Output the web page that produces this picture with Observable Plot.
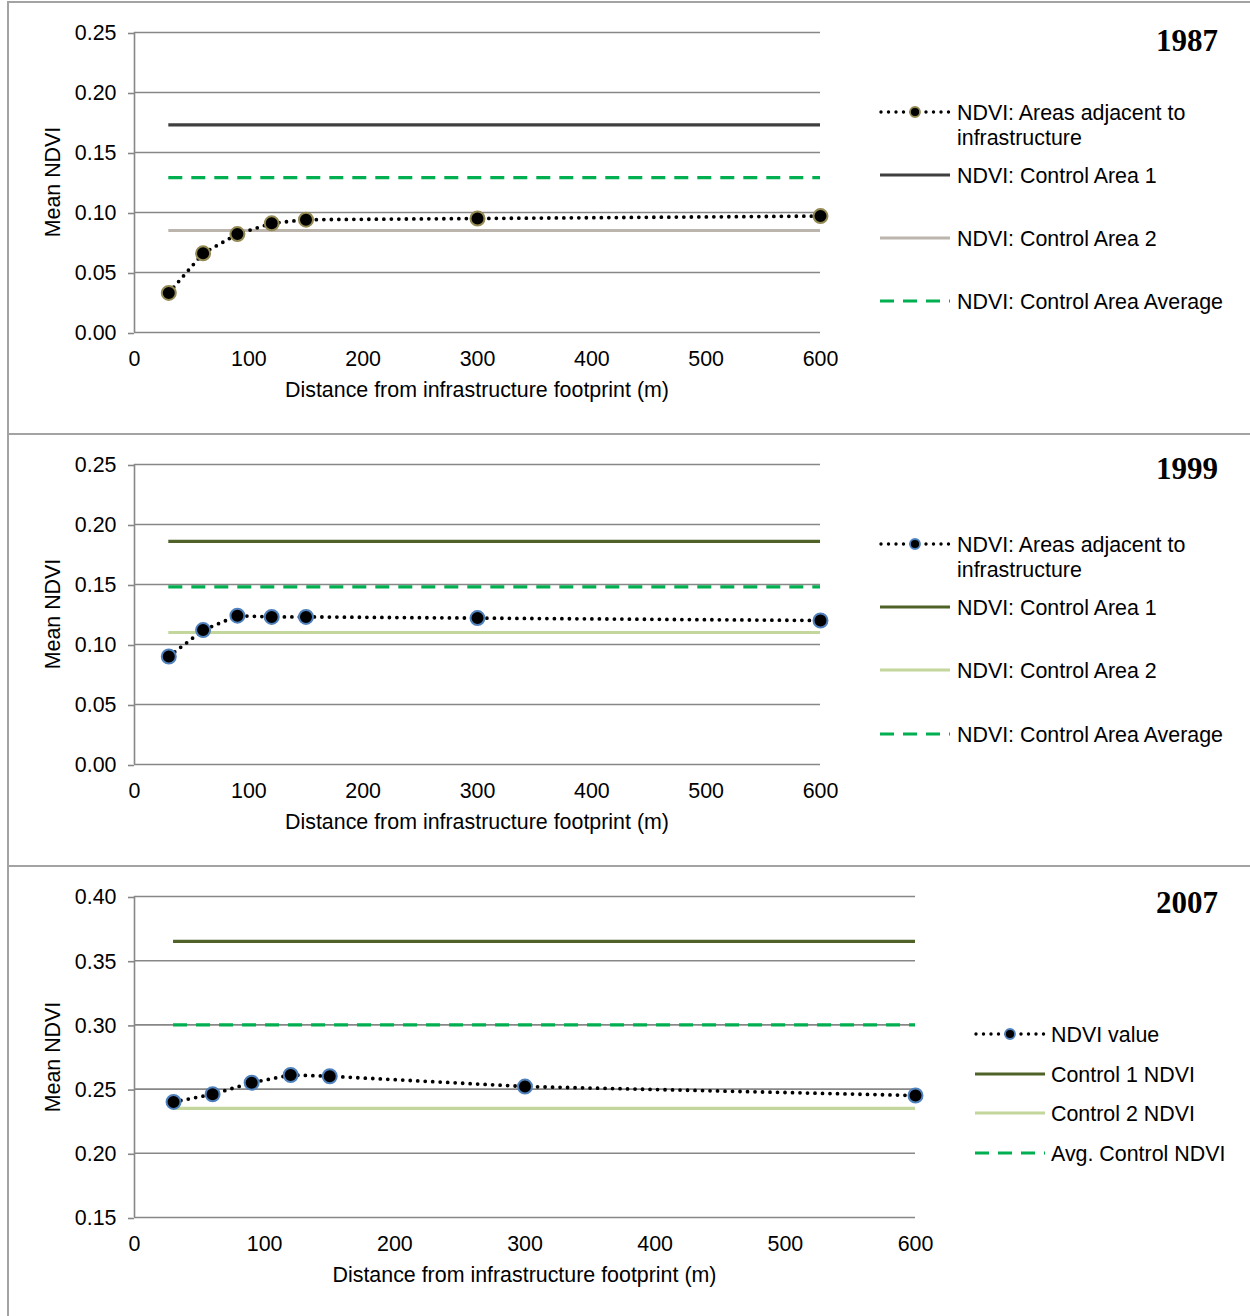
<!DOCTYPE html>
<html>
<head>
<meta charset="utf-8">
<script src="https://cdn.jsdelivr.net/npm/d3@7"></script>
<script src="https://cdn.jsdelivr.net/npm/@observablehq/plot@0.6"></script>
<style>
  body { margin: 0; background: #fff; }
  #root { position: relative; width: 1250px; height: 1316px; overflow: hidden; font-family: "Liberation Sans", Arial, sans-serif; color: #000; }
  .abs { position: absolute; }
  .t { position: absolute; font-size: 21.4px; line-height: 1; white-space: nowrap; }
  .title { position: absolute; font-family: "Liberation Serif", "Times New Roman", serif; font-weight: bold; font-size: 31px; line-height: 1; transform: translateY(-50%); }
  .hline { position: absolute; height: 0; border-top: 2px solid #a3a3a3; }
  .vline { position: absolute; width: 0; border-left: 2px solid #a3a3a3; }
</style>
</head>
<body>
<div id="root"></div>
<script>
// ---------- data ----------
const distances = [30, 60, 90, 120, 150, 300, 600];
const xTicks = [0, 100, 200, 300, 400, 500, 600];

const ndvi1987 = [0.033, 0.066, 0.082, 0.091, 0.094, 0.095, 0.097];
const ndvi1999 = [0.090, 0.112, 0.124, 0.123, 0.123, 0.122, 0.120];
const ndvi2007 = [0.240, 0.246, 0.255, 0.261, 0.260, 0.252, 0.245];

const control1 = [0.173, 0.186, 0.365];   // 1987, 1999, 2007
const control2 = [0.085, 0.110, 0.235];
const controlAvg = [0.129, 0.148, 0.300];

const yTicksA = [0, 0.05, 0.10, 0.15, 0.20, 0.25];
const yTicksC = [0.15, 0.20, 0.25, 0.30, 0.35, 0.40];

const years = ["1987", "1999", "2007"];
const legendA = ["NDVI: Areas adjacent to\ninfrastructure", "NDVI: Control Area 1", "NDVI: Control Area 2", "NDVI: Control Area Average"];
const legendC = ["NDVI value", "Control 1 NDVI", "Control 2 NDVI", "Avg. Control NDVI"];

const xLabel = "Distance from infrastructure footprint (m)";
const yLabel = "Mean NDVI";

// ---------- styles ----------
const grid = "#878787";
const avgColor = "#00b050";
const styles = [
  {marker: "#948a54", c1: "#3f3f3f", c2: "#bcb5ad"},
  {marker: "#4f81bd", c1: "#4f6228", c2: "#c3d69b"},
  {marker: "#4f81bd", c1: "#4f6228", c2: "#c3d69b"}
];
const dashAvg = "14,9";
const dotDash = "0,7.5";
const textShift = 1.5;

const root = document.getElementById("root");

function el(tag, cls, css, html) {
  const e = document.createElement(tag);
  if (cls) e.className = cls;
  Object.assign(e.style, css || {});
  if (html != null) e.innerHTML = html;
  root.appendChild(e);
  return e;
}

// borders
el("div", "hline", {left: "8px", top: "1px", width: "1242px"});
el("div", "vline", {left: "7px", top: "1px", height: "1315px"});
el("div", "hline", {left: "8px", top: "433px", width: "1242px"});
el("div", "hline", {left: "8px", top: "865px", width: "1242px"});

function makePlot(i, vals, yTicks, opts) {
  const data = distances.map((d, k) => ({d, v: vals[k]}));
  const st = styles[i];
  const p = Plot.plot({
    width: opts.width, height: opts.height,
    marginLeft: 134, marginRight: opts.width - opts.xRight,
    marginTop: opts.marginTop, marginBottom: opts.marginBottom,
    x: {domain: [0, 600]},
    y: {domain: [yTicks[0], yTicks[yTicks.length - 1]]},
    style: {fontFamily: '"Liberation Sans", Arial, sans-serif', fontSize: "21.4px", color: "#000", background: "transparent", overflow: "visible"},
    marks: [
      Plot.gridY(yTicks, {stroke: grid, strokeOpacity: 1, strokeWidth: 1.6}),
      Plot.ruleX([0], {stroke: grid, strokeWidth: 1.6}),
      Plot.axisY(yTicks, {tickFormat: d3.format(".2f"), tickSize: 6, tickPadding: 12, stroke: grid, strokeWidth: 1.6, label: null, fill: "#000", dy: 1}),
      Plot.axisX(xTicks, {tickSize: 0, tickPadding: 18, label: null, fill: "#000"}),
      Plot.ruleY([control2[i]], {x1: distances[0], x2: distances[distances.length - 1], stroke: st.c2, strokeWidth: 3.2}),
      Plot.ruleY([control1[i]], {x1: distances[0], x2: distances[distances.length - 1], stroke: st.c1, strokeWidth: 3.2}),
      Plot.ruleY([controlAvg[i]], {x1: distances[0], x2: distances[distances.length - 1], stroke: avgColor, strokeWidth: 3.2, strokeDasharray: dashAvg}),
      Plot.line(data, {x: "d", y: "v", stroke: "#000", strokeWidth: 3.8, strokeDasharray: dotDash, strokeLinecap: "round"}),
      Plot.dot(data, {x: "d", y: "v", r: 7, fill: "#000", stroke: st.marker, strokeWidth: 2})
    ]
  });
  p.style.position = "absolute";
  p.style.left = "0px";
  p.style.top = opts.top + "px";
  root.appendChild(p);

  const plotTop = opts.top + opts.marginTop;
  const plotBottom = opts.top + opts.height - opts.marginBottom;
  // axis titles
  el("div", "t", {left: "54px", top: ((plotTop + plotBottom) / 2) + "px", transform: "translate(-50%,-50%) rotate(-90deg)"}, yLabel);
  el("div", "t", {left: ((134 + opts.xRight) / 2) + "px", top: (plotBottom + 57 + textShift) + "px", transform: "translate(-50%,-50%)"}, xLabel);
  // year title
  el("div", "title", {right: "32px", top: opts.titleY + "px"}, years[i]);
}

function sample(kind, st) {
  const w = 72, h = 20, y = 10;
  let inner;
  if (kind === 0) {
    inner = `<line x1="2" x2="70" y1="${y}" y2="${y}" stroke="#000" stroke-width="3.4" stroke-dasharray="${dotDash}" stroke-linecap="round"/>` +
            `<circle cx="36" cy="${y}" r="5" fill="#000" stroke="${st.marker}" stroke-width="1.8"/>`;
  } else if (kind === 1) {
    inner = `<line x1="1" x2="71" y1="${y}" y2="${y}" stroke="${st.c1}" stroke-width="3.2"/>`;
  } else if (kind === 2) {
    inner = `<line x1="1" x2="71" y1="${y}" y2="${y}" stroke="${st.c2}" stroke-width="3.2"/>`;
  } else {
    inner = `<line x1="1" x2="71" y1="${y}" y2="${y}" stroke="${avgColor}" stroke-width="3.2" stroke-dasharray="${dashAvg}"/>`;
  }
  return `<svg width="${w}" height="${h}" style="display:block">${inner}</svg>`;
}

function legend(i, labels, rows, sx, tx) {
  const st = styles[i];
  labels.forEach((lab, k) => {
    const yc = rows[k];
    el("div", "abs", {left: sx + "px", top: (yc - 10) + "px"}, sample(k, st));
    const parts = lab.split("\n");
    if (parts.length > 1) {
      el("div", "t", {left: tx + "px", top: (yc - 12.5 + textShift) + "px", lineHeight: "25px"}, parts.join("<br>"));
    } else {
      el("div", "t", {left: tx + "px", top: (yc + textShift) + "px", transform: "translateY(-50%)"}, lab);
    }
  });
}

makePlot(0, ndvi1987, yTicksA, {top: 0, width: 860, height: 434, xRight: 820, marginTop: 32, marginBottom: 102, titleY: 40});
makePlot(1, ndvi1999, yTicksA, {top: 434, width: 860, height: 432, xRight: 820, marginTop: 30, marginBottom: 102, titleY: 468});
makePlot(2, ndvi2007, yTicksC, {top: 866, width: 960, height: 450, xRight: 915, marginTop: 30, marginBottom: 99, titleY: 902});

legend(0, legendA, [112, 175, 238, 301], 879, 957);
legend(1, legendA, [544, 607, 670, 734], 879, 957);
legend(2, legendC, [1034, 1074, 1113, 1153], 974, 1051);
</script>
</body>
</html>
